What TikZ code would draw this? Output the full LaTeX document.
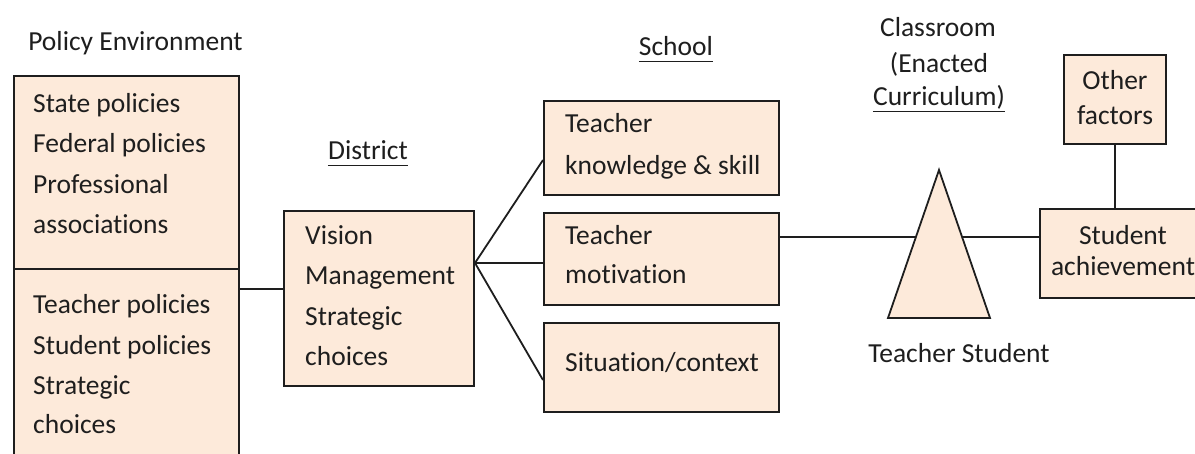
\documentclass[tikz,border=0pt]{standalone}
\usepackage{fontspec}
\setmainfont{Carlito}[Ligatures=NoCommon]
\definecolor{peach}{HTML}{FDEADA}
\definecolor{ink}{HTML}{1E1E1E}
\tikzset{
  box/.style={draw=ink, fill=peach, line width=2pt, inner sep=0pt, anchor=north west},
  conn/.style={draw=ink, line width=1.8pt},
  uline/.style={draw=ink, line width=1.8pt},
  txt/.style={anchor=base west, inner sep=0pt, text=ink, font=\fontsize{27.5}{33}\selectfont},
  ctxt/.style={anchor=base, inner sep=0pt, text=ink, font=\fontsize{27.5}{33}\selectfont},
}
\begin{document}
\begin{tikzpicture}[x=1pt,y=-1pt]
\useasboundingbox (0,0) rectangle (1195,454);
\clip (0,0) rectangle (1195,454);
\fill[white] (0,0) rectangle (1195,454);

% Policy environment
\node[ctxt] (pe) at (135.5,51) {Policy Environment};
\node[box, minimum width=225, minimum height=400] (lbox) at (13,75) {};
\coordinate (divL) at (13,269);
\draw[conn] (divL) -- (divL -| lbox.east);
\node[txt] (l1) at (33,113) {State policies};
\node[txt] (l2) at (33,153) {Federal policies};
\node[txt] (l3) at (33,194) {Professional};
\node[txt] (l4) at (33,234) {associations};
\node[txt] (l5) at (33,314) {Teacher policies};
\node[txt] (l6) at (33,355) {Student policies};
\node[txt] (l7) at (33,395) {Strategic};
\node[txt] (l8) at (33,433) {choices};

% District
\node[ctxt] (dl) at (368,160) {District};
\draw[uline] ([yshift=-5.5pt]dl.base west) -- ([yshift=-5.5pt]dl.base east);
\node[box, minimum width=190, minimum height=175] (dist) at (283,210) {};
\node[txt] (d1) at (305,245) {Vision};
\node[txt] (d2) at (305,285) {Management};
\node[txt] (d3) at (305,326) {Strategic};
\node[txt] (d4) at (305,366) {choices};
\draw[conn] (lbox.east |- 0,289) -- (dist.west |- 0,289);

% School
\node[ctxt] (sl) at (676,56) {School};
\draw[uline] ([yshift=-5.5pt]sl.base west) -- ([yshift=-5.5pt]sl.base east);
\node[box, minimum width=235, minimum height=94] (s1) at (543,100) {};
\node[box, minimum width=235, minimum height=92] (s2) at (543,212) {};
\node[box, minimum width=235, minimum height=89] (s3) at (543,322) {};
\node[txt] (s1a) at (565,133) {Teacher};
\node[txt] (s1b) at (565,175) {knowledge \& skill};
\node[txt] (s2a) at (565,245) {Teacher};
\node[txt] (s2b) at (565,284) {motivation};
\node[txt] (s3a) at (565,372) {Situation/context};

\coordinate (fan) at (dist.east |- 0,263);
\draw[conn] (fan) -- (s1.west |- 0,160);
\draw[conn] (fan) -- (s2.west |- 0,263);
\draw[conn] (fan) -- (s3.west |- 0,380);

% Classroom
\node[ctxt] (c1) at (938,37) {Classroom};
\node[ctxt] (c2) at (939,73) {(Enacted};
\node[ctxt] (c3) at (939,106) {Curriculum)};
\draw[uline] ([yshift=-5.5pt]c3.base west) -- ([yshift=-5.5pt]c3.base east);
\node[ctxt] (ts) at (959,363) {Teacher Student};

% Student achievement and other factors
\node[box, minimum width=300, minimum height=89] (sa) at (1039,208) {};
\node[ctxt] (sa1) at (1123,245) {Student};
\node[ctxt] (sa2) at (1123,276) {achievement};
\node[box, minimum width=102, minimum height=89] (of) at (1063,54) {};
\node[ctxt] (of1) at (1115,90) {Other};
\node[ctxt] (of2) at (1115,125) {factors};
\draw[conn] (of.south -| 1115,0) -- (sa.north -| 1115,0);

% Line through the classroom triangle
\draw[conn] (s2.east |- 0,237) -- (sa.west |- 0,237);
\coordinate (tA) at (939,170);
\coordinate (tR) at (990,318);
\coordinate (tL) at (888,318);
\draw[draw=ink, fill=peach, line width=1.8pt, line join=miter] (tA) -- (tR) -- (tL) -- cycle;
\end{tikzpicture}
\end{document}
